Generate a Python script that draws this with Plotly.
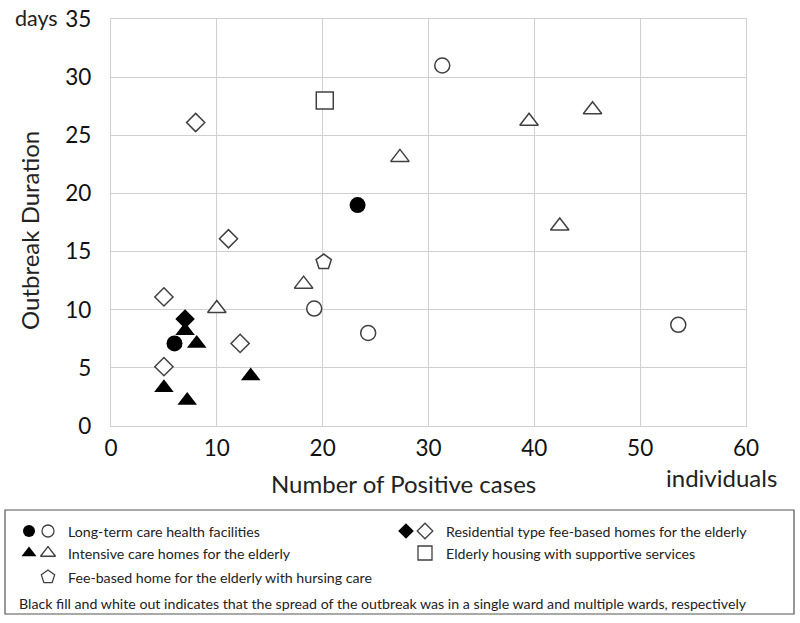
import plotly.graph_objects as go

# ---- data ----
ltc_single_x = [6.0, 23.3]
ltc_single_y = [7.1, 19.0]
ltc_multi_x = [31.3, 19.2, 24.3, 53.6]
ltc_multi_y = [31.0, 10.1, 8.0, 8.7]
icare_single_x = [7.0, 8.1, 5.0, 7.2, 13.2]
icare_single_y = [8.2, 7.1, 3.3, 2.2, 4.3]
icare_multi_x = [39.5, 45.5, 27.3, 42.4, 18.2, 10.0]
icare_multi_y = [26.2, 27.2, 23.1, 17.2, 12.2, 10.1]
nursing_multi_x = [20.1]
nursing_multi_y = [14.1]
resid_single_x = [7.0]
resid_single_y = [9.2]
resid_multi_x = [8.0, 11.1, 5.0, 12.2, 5.0]
resid_multi_y = [26.1, 16.1, 11.1, 7.1, 5.1]
housing_multi_x = [20.2]
housing_multi_y = [28.0]

x_ticks = [0, 10, 20, 30, 40, 50, 60]
y_ticks = [0, 5, 10, 15, 20, 25, 30, 35]

legend_labels = [
    "Long-term care health facilities",
    "Intensive care homes for the elderly",
    "Fee-based home for the elderly with hursing care",
    "Residential type fee-based homes for the elderly",
    "Elderly housing with supportive services",
]
note_text = ("Black fill and white out indicates that the spread of the outbreak "
             "was in a single ward and multiple wards, respectively")

FONT = "Lato"
W, H = 800, 623
L, R, T, B = 111, 746, 19, 426  # plot area in pixels

DARK = "#404040"
fig = go.Figure()


def add(x, y, symbol, filled, size):
    fig.add_trace(go.Scatter(
        x=x, y=y, mode="markers", showlegend=False, hoverinfo="skip",
        marker=dict(symbol=symbol, size=size,
                    color="black" if filled else "white",
                    line=dict(color="black" if filled else DARK, width=0 if filled else 1.5)),
        xaxis="x", yaxis="y"))


add(ltc_multi_x, ltc_multi_y, "circle", False, 15)
add(icare_multi_x, icare_multi_y, "triangle-up", False, 16)
add(nursing_multi_x, nursing_multi_y, "pentagon", False, 16)
add(resid_multi_x, resid_multi_y, "diamond", False, 14)
add(housing_multi_x, housing_multi_y, "square", False, 17)
add(icare_single_x, icare_single_y, "triangle-up", True, 17)
add(ltc_single_x, ltc_single_y, "circle", True, 16)
add(resid_single_x, resid_single_y, "diamond", True, 15)

# ---- legend box drawn on a full-page helper axis (pixel coordinates) ----
leg_markers = [
    # x, y, symbol, filled
    (29, 531, "circle", True), (48, 531, "circle", False),
    (29, 553, "triangle-up", True), (48, 553, "triangle-up", False),
    (48, 577, "pentagon", False),
    (406, 531, "diamond", True), (425, 531, "diamond", False),
    (425, 553, "square", False),
]
for (mx, my, sym, filled) in leg_markers:
    sz = {"circle": 12, "triangle-up": 13, "pentagon": 14, "diamond": 12, "square": 14}[sym]
    fig.add_trace(go.Scatter(
        x=[mx], y=[my], mode="markers", showlegend=False, hoverinfo="skip",
        marker=dict(symbol=sym, size=sz,
                    color="black" if filled else "white",
                    line=dict(color="black" if filled else DARK, width=0 if filled else 1.3)),
        xaxis="x2", yaxis="y2"))

LEG_FS = 14.2
annotations = []
leg_text_pos = [(66, 531), (66, 553), (66, 577), (444, 531), (444, 553)]
for (tx, ty), lab in zip(leg_text_pos, legend_labels):
    annotations.append(dict(x=tx, y=ty, xref="x2", yref="y2", text=lab, showarrow=False,
                            xanchor="left", yanchor="middle",
                            font=dict(family=FONT, size=LEG_FS, color="#222")))
annotations.append(dict(x=17, y=603, xref="x2", yref="y2", text=note_text, showarrow=False,
                        xanchor="left", yanchor="middle",
                        font=dict(family=FONT, size=LEG_FS, color="#222")))

# axis titles and units
TITLE_FS = 24
annotations += [
    dict(x=403, y=483, xref="x2", yref="y2", text="Number of Positive cases",
         showarrow=False, xanchor="center", yanchor="middle",
         font=dict(family=FONT, size=TITLE_FS, color="#222")),
    dict(x=721, y=477, xref="x2", yref="y2", text="individuals",
         showarrow=False, xanchor="center", yanchor="middle",
         font=dict(family=FONT, size=TITLE_FS, color="#222")),
    dict(x=36, y=18, xref="x2", yref="y2", text="days",
         showarrow=False, xanchor="center", yanchor="middle",
         font=dict(family=FONT, size=21.5, color="#222")),
    dict(x=29, y=231, xref="x2", yref="y2", text="Outbreak Duration", textangle=-90,
         showarrow=False, xanchor="center", yanchor="middle",
         font=dict(family=FONT, size=TITLE_FS, color="#222")),
]

shapes = [dict(type="rect", xref="x2", yref="y2", x0=5, x1=794, y0=510, y1=614,
               line=dict(color="#555", width=1.2), fillcolor="rgba(0,0,0,0)", layer="below")]

GRID = "#d0d0d0"
TICK_FS = 22.5
fig.update_layout(
    width=W, height=H,
    margin=dict(l=0, r=0, t=0, b=0, pad=0, autoexpand=False),
    paper_bgcolor="white", plot_bgcolor="rgba(0,0,0,0)",
    font=dict(family=FONT, color="#111"),
    xaxis=dict(domain=[L / W, R / W], range=[0, 60], tickvals=x_ticks,
               ticktext=[str(v) for v in x_ticks], automargin=False,
               showgrid=True, gridcolor=GRID, gridwidth=1.2, zeroline=False,
               showline=True, linecolor=GRID, linewidth=1.2, mirror=True,
               ticks="", ticklabelstandoff=2, tickfont=dict(family=FONT, size=TICK_FS, color="#111"),
               fixedrange=True),
    yaxis=dict(domain=[(H - B) / H, (H - T) / H], range=[0, 35], tickvals=y_ticks,
               ticktext=[str(v) for v in y_ticks], automargin=False,
               showgrid=True, gridcolor=GRID, gridwidth=1.2, zeroline=False,
               showline=True, linecolor=GRID, linewidth=1.2, mirror=True,
               ticks="", ticklabelstandoff=14, tickfont=dict(family=FONT, size=TICK_FS, color="#111"),
               fixedrange=True),
    xaxis2=dict(domain=[0, 1], range=[0, W], visible=False, fixedrange=True, anchor="y2",
                automargin=False),
    yaxis2=dict(domain=[0, 1], range=[H, 0], visible=False, fixedrange=True, anchor="x2",
                automargin=False),
    annotations=annotations,
    shapes=shapes,
)

fig.write_html("out.html", config={"displayModeBar": False},
               post_script="document.body.style.margin='0px';document.body.style.padding='0px';")
